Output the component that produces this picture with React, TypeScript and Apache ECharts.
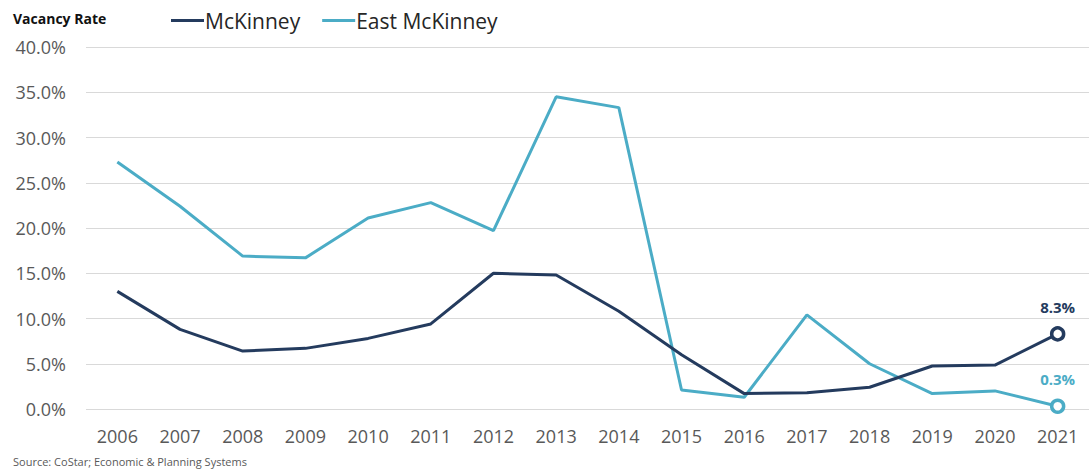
import React, { useEffect, useRef } from "react";
import * as echarts from "echarts";

const years = ["2006", "2007", "2008", "2009", "2010", "2011", "2012", "2013", "2014", "2015", "2016", "2017", "2018", "2019", "2020", "2021"];
const mckinney = [13.0, 8.8, 6.4, 6.7, 7.8, 9.4, 15.0, 14.8, 10.8, 6.0, 1.7, 1.8, 2.4, 4.75, 4.85, 8.3];
const eastMckinney = [27.3, 22.4, 16.9, 16.7, 21.1, 22.8, 19.7, 34.5, 33.3, 2.1, 1.3, 10.4, 5.0, 1.7, 2.0, 0.3];

const NAVY = "#243b5e";
const CYAN = "#4bacc6";
const FONT = "'Open Sans', sans-serif";

function withEndMarker(values: number[], color: string) {
  return values.map((v, i) =>
    i === values.length - 1
      ? {
          value: v,
          symbolSize: 12,
          itemStyle: { color: "#ffffff", borderColor: color, borderWidth: 3.5 },
          label: {
            show: true,
            position: "top",
            distance: 12,
            formatter: (p: any) => p.value.toFixed(1) + "%",
            color,
            fontFamily: FONT,
            fontWeight: "bold",
            fontSize: 15,
          },
        }
      : { value: v, symbolSize: 0 }
  );
}

export default function App() {
  const ref = useRef<HTMLDivElement>(null);
  useEffect(() => {
    if (!ref.current) return;
    const chart = echarts.init(ref.current, null, { renderer: "svg" });
    chart.setOption({
      animation: false,
      backgroundColor: "#ffffff",
      textStyle: { fontFamily: FONT },
      graphic: [
        {
          type: "text",
          left: 13,
          top: 11,
          style: { text: "Vacancy Rate", fontFamily: FONT, fontWeight: "bold", fontSize: 14, fill: "#111111" },
        },
        {
          type: "text",
          left: 13,
          top: 456,
          style: { text: "Source: CoStar; Economic & Planning Systems", fontFamily: FONT, fontSize: 11, fill: "#595959" },
        },
      ],
      legend: {
        left: 166,
        top: 5,
        itemWidth: 33,
        itemHeight: 3,
        itemGap: 22,
        icon: "rect",
        textStyle: { fontFamily: FONT, fontSize: 21, color: "#262626", padding: [0, 0, 0, -4] },
        data: ["McKinney", "East McKinney"],
      },
      grid: { left: 86, width: 1004, top: 47, bottom: 63 },
      xAxis: {
        type: "category",
        data: years,
        boundaryGap: true,
        axisLine: { show: false },
        axisTick: { show: false },
        axisLabel: { fontFamily: FONT, fontSize: 18, color: "#595959", margin: 18 },
      },
      yAxis: {
        type: "value",
        min: 0,
        max: 40,
        interval: 5,
        axisLabel: { fontFamily: FONT, fontSize: 18, color: "#595959", margin: 20, formatter: (v: number) => v.toFixed(1) + "%" },
        splitLine: { lineStyle: { color: "#d9d9d9", width: 1 } },
        axisLine: { show: false },
        axisTick: { show: false },
      },
      series: [
        {
          name: "McKinney",
          type: "line",
          data: withEndMarker(mckinney, NAVY),
          color: NAVY,
          symbol: "circle",
          showSymbol: true,
          showAllSymbol: true,
          clip: false,
          itemStyle: { color: NAVY },
          lineStyle: { color: NAVY, width: 3 },
          z: 3,
        },
        {
          name: "East McKinney",
          type: "line",
          data: withEndMarker(eastMckinney, CYAN),
          color: CYAN,
          symbol: "circle",
          showSymbol: true,
          showAllSymbol: true,
          clip: false,
          itemStyle: { color: CYAN },
          lineStyle: { color: CYAN, width: 3 },
          z: 2,
        },
      ],
    });
    return () => chart.dispose();
  }, []);
  return <div ref={ref} style={{ position: "fixed", left: 0, top: 0, width: 1089, height: 472 }} />;
}
